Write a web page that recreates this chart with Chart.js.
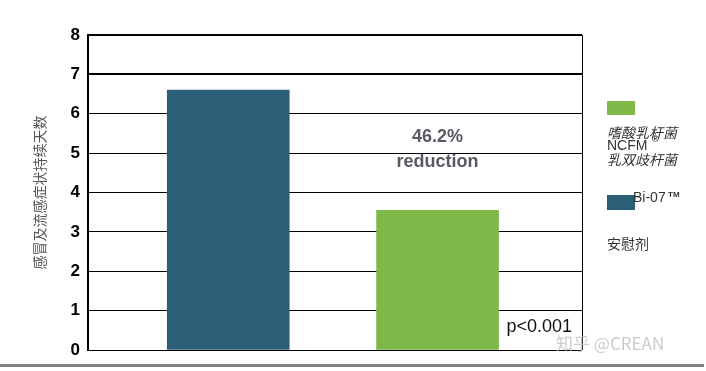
<!DOCTYPE html>
<html>
<head>
<meta charset="utf-8">
<script src="https://cdn.jsdelivr.net/npm/chart.js@4.4.0/dist/chart.umd.min.js"></script>
<style>
  html, body { margin: 0; padding: 0; background: #fff; }
  #wrap { position: relative; width: 706px; height: 371px; }
</style>
</head>
<body>
<div id="wrap"><canvas id="myBarChart" width="706" height="371"></canvas></div>
<script>
var categories = ["安慰剂", "嗜酸乳杆菌 NCFM® 乳双歧杆菌 Bi-07™"];
var daysValues = [6.6, 3.55];
var barColors = ["#2b5f78", "#7db848"];
var yTicks = [0, 1, 2, 3, 4, 5, 6, 7, 8];
var reductionText = ["46.2%", "reduction"];
var pValueText = "p<0.001";

// custom drawing: right border, annotations, legend, bottom rule
var extrasPlugin = {
  id: "extras",
  afterDraw: function (chart) {
    var ctx = chart.ctx;
    var area = chart.chartArea;
    var bars = chart.getDatasetMeta(0).data;
    var green = bars[1];
    ctx.save();

    // right border of plot box
    ctx.strokeStyle = "#000";
    ctx.lineWidth = 1;
    ctx.beginPath();
    ctx.moveTo(area.right + 0.5, area.top);
    ctx.lineTo(area.right + 0.5, area.bottom);
    ctx.stroke();

    // reduction note above the green bar
    ctx.fillStyle = "#575a63";
    ctx.font = "bold 18px 'Liberation Sans', Arial, sans-serif";
    ctx.textAlign = "center";
    ctx.textBaseline = "middle";
    ctx.fillText(reductionText[0], green.x, green.y - 73);
    ctx.fillText(reductionText[1], green.x, green.y - 48);

    // p value
    ctx.fillStyle = "#111";
    ctx.font = "18px 'Liberation Sans', Arial, sans-serif";
    ctx.textAlign = "left";
    ctx.fillText(pValueText, green.x + green.width / 2 + 8, 327);

    // legend
    var lx = 607;
    ctx.fillStyle = barColors[1];
    ctx.fillRect(lx, 101, 28, 14);
    ctx.fillStyle = "#333";
    ctx.font = "italic 14px 'Noto Sans CJK SC', sans-serif";
    ctx.fillText("嗜酸乳杆菌", lx, 133);
    ctx.font = "14px 'Liberation Sans', Arial, sans-serif";
    ctx.fillText("NCFM", lx, 146);
    ctx.font = "bold 9px 'Liberation Sans', Arial, sans-serif";
    ctx.fillText("®", lx + 45, 140);
    ctx.font = "italic 14px 'Noto Sans CJK SC', sans-serif";
    ctx.fillText("乳双歧杆菌", lx, 160);
    ctx.fillStyle = barColors[0];
    ctx.fillRect(lx, 195, 28, 15);
    ctx.fillStyle = "#333";
    ctx.font = "14px 'Liberation Sans', Arial, sans-serif";
    ctx.fillText("Bi-07", lx + 26, 198);
    ctx.font = "bold 8px 'Liberation Sans', Arial, sans-serif";
    ctx.fillText("TM", lx + 61, 195);
    ctx.font = "14px 'Noto Sans CJK SC', sans-serif";
    ctx.fillText(categories[0], lx, 244);

    // watermark
    ctx.fillStyle = "rgba(190,190,190,0.8)";
    ctx.font = "17px 'Noto Sans CJK SC', sans-serif";
    ctx.fillText("知乎 @CREAN", 556, 344);

    // bottom grey rule
    ctx.fillStyle = "#808080";
    ctx.fillRect(0, 364, 704, 3);
    ctx.restore();
  }
};

new Chart("myBarChart", {
  type: "bar",
  data: {
    datasets: [{
      label: "days",
      data: daysValues.map(function (v, i) { return { x: i + 1, y: v }; }),
      backgroundColor: barColors,
      barThickness: 122
    }]
  },
  options: {
    responsive: false,
    animation: false,
    layout: { padding: { left: 0, right: 124, top: 35, bottom: 21 } },
    plugins: {
      legend: { display: false },
      tooltip: { enabled: false }
    },
    scales: {
      x: {
        type: "linear",
        offset: false,
        min: 0.33,
        max: 2.69,
        display: false
      },
      y: {
        min: 0,
        max: 8,
        afterFit: function (scale) { scale.width = 88; },
        afterBuildTicks: function (scale) {
          scale.ticks = yTicks.map(function (v) { return { value: v }; });
        },
        ticks: {
          color: "#000",
          padding: 8,
          font: { family: "'Liberation Sans', Arial, sans-serif", size: 17, weight: "bold" }
        },
        grid: {
          color: "#000",
          drawTicks: false,
          lineWidth: function (c) { return (c.tick && c.tick.value >= 7) ? 2 : 1; }
        },
        border: { color: "#000", width: 2 },
        title: {
          display: true,
          text: "感冒及流感症状持续天数",
          color: "#555",
          padding: { top: 31, bottom: 0 },
          font: { family: "'Noto Sans CJK SC', sans-serif", size: 14 }
        }
      }
    }
  },
  plugins: [extrasPlugin]
});
</script>
</body>
</html>
